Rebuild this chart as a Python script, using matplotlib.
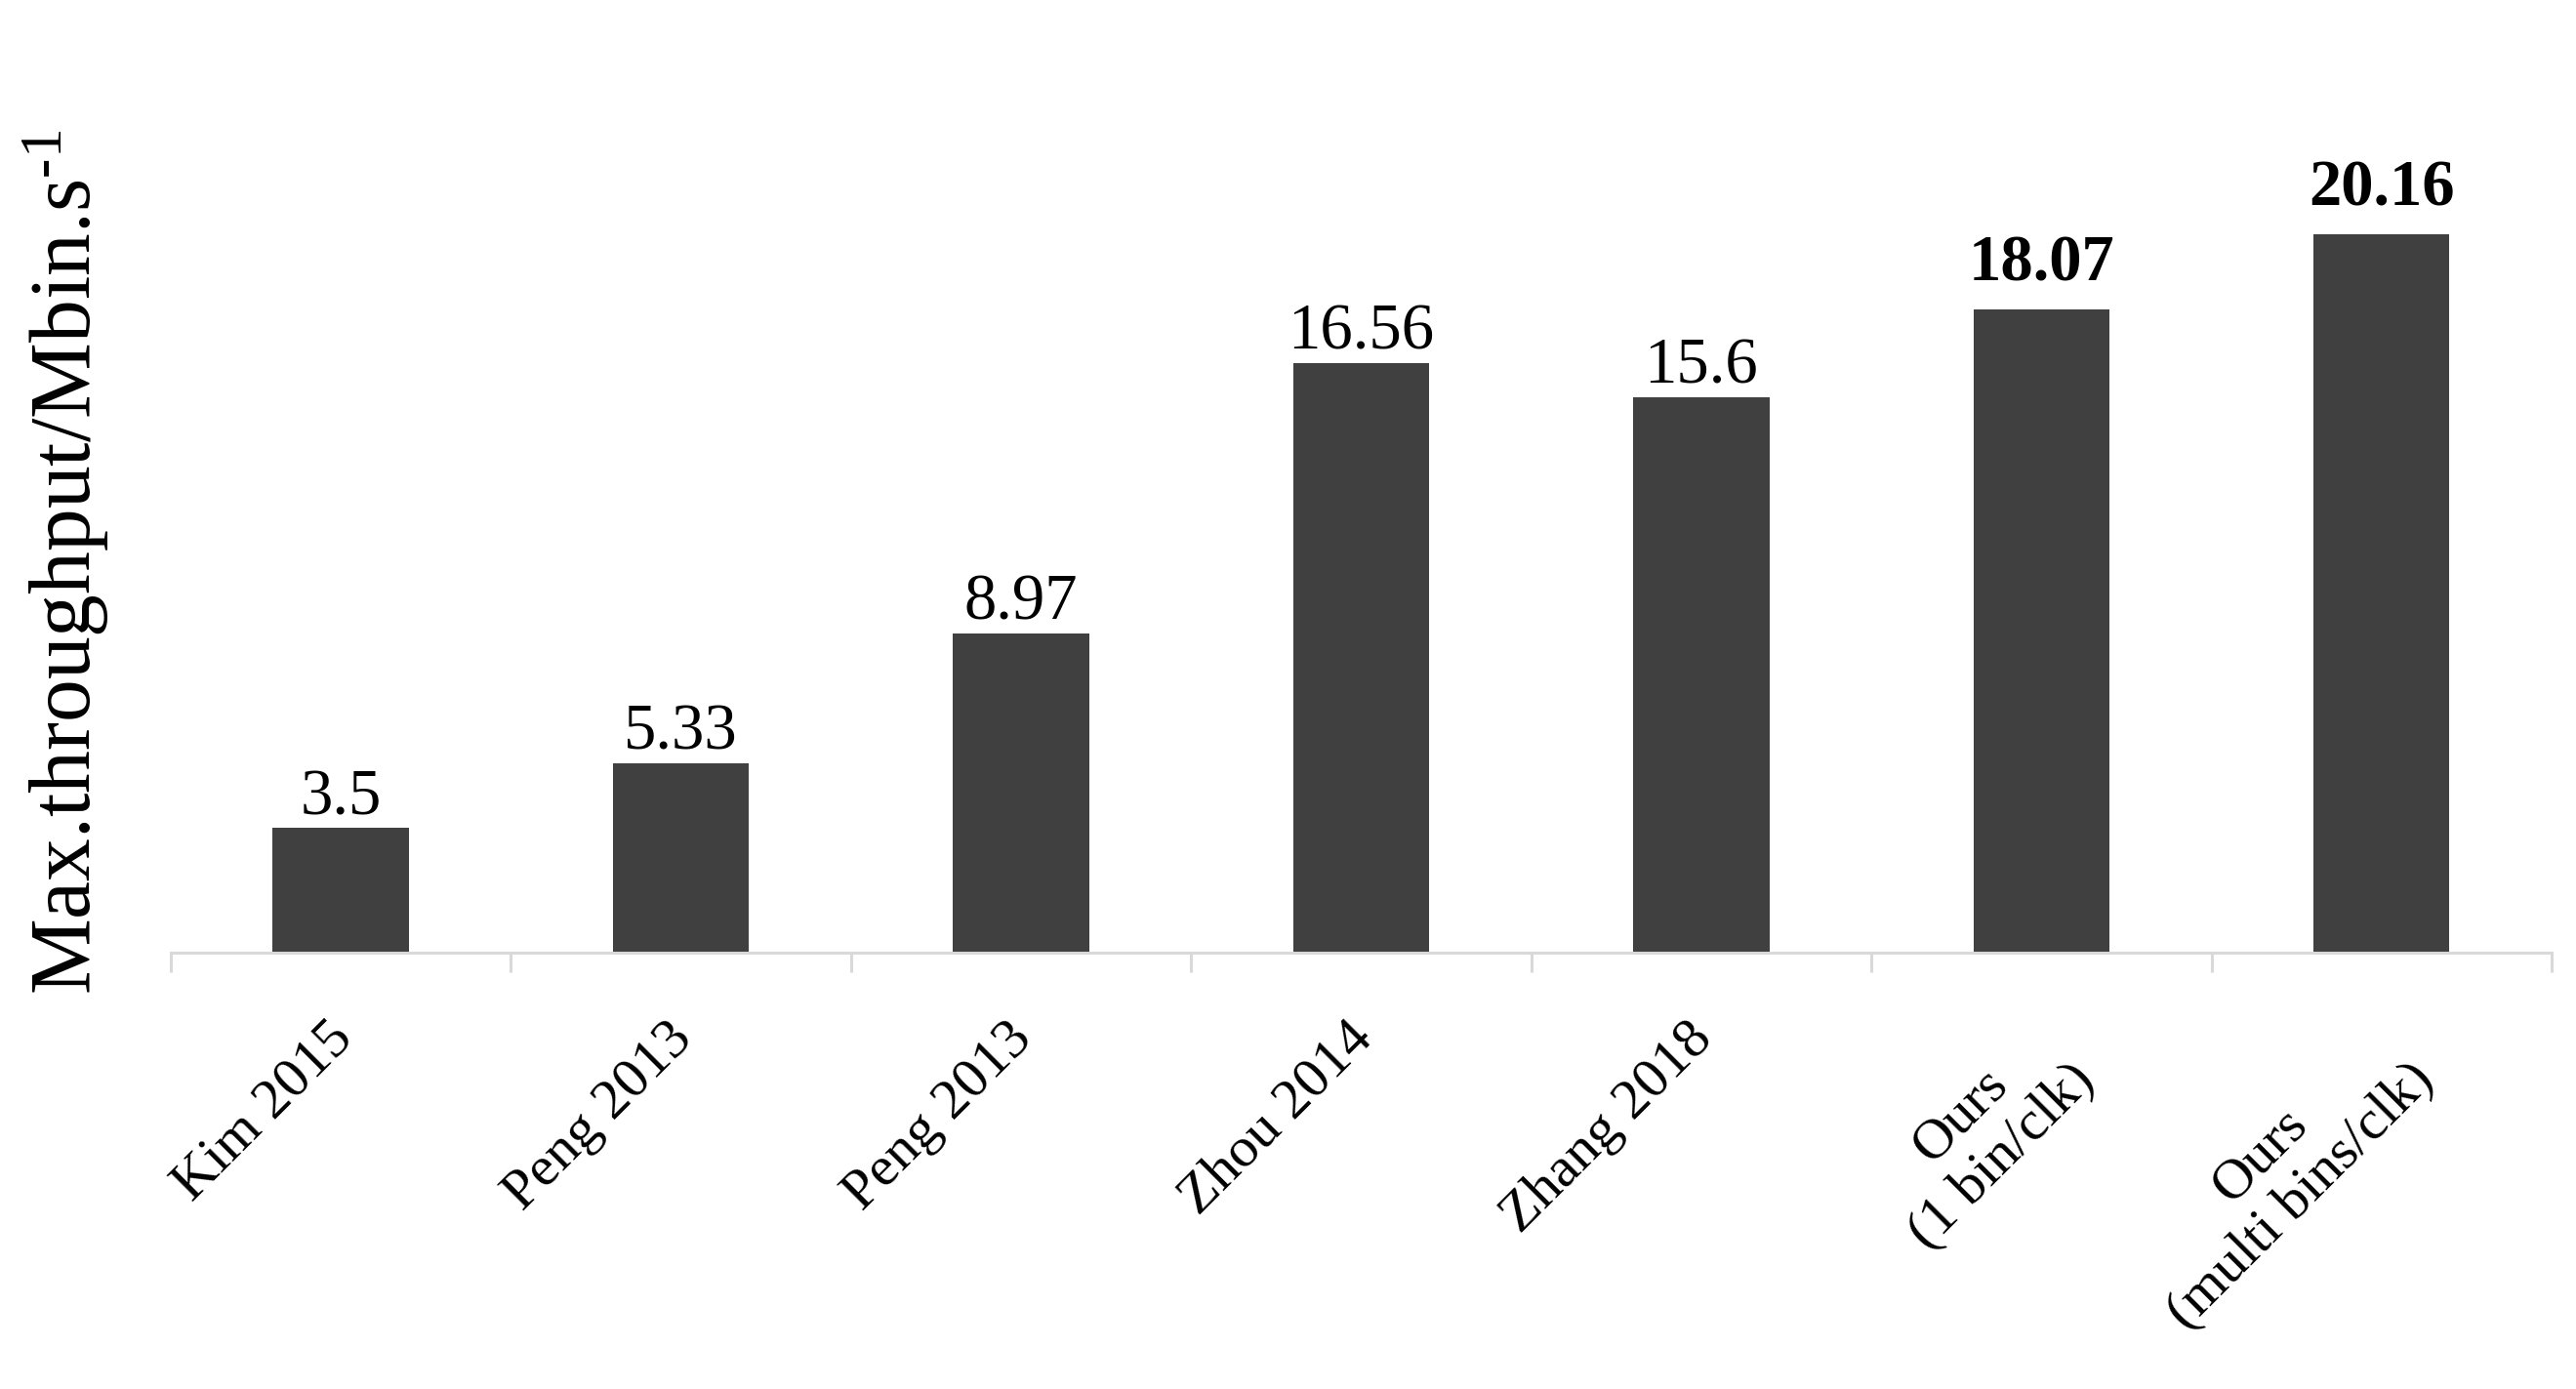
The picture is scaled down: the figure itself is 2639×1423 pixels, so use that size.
import numpy as np
import matplotlib
matplotlib.use('Agg')
from matplotlib import pyplot as plt
from matplotlib.transforms import ScaledTranslation

plt.rcParams['font.family'] = 'Liberation Serif'
plt.rcParams['mathtext.fontset'] = 'custom'
plt.rcParams['mathtext.rm'] = 'Liberation Serif'
plt.rcParams['mathtext.default'] = 'regular'

methods = ['Kim 2015', 'Peng 2013', 'Peng 2013', 'Zhou 2014', 'Zhang 2018',
           'Ours\n(1 bin/clk)', 'Ours\n(multi bins/clk)']
throughput = [3.5, 5.33, 8.97, 16.56, 15.6, 18.07, 20.16]
value_text = ['3.5', '5.33', '8.97', '16.56', '15.6', '18.07', '20.16']
is_ours = [False, False, False, False, False, True, True]

bar_color = '#404040'
axis_color = '#d9d9d9'

fig = plt.figure(figsize=(26.39, 14.23), dpi=100)
ax = fig.add_axes([0.0663, 0.314, 0.9242, 0.686])

x = np.arange(len(methods))
bars = ax.bar(x, throughput, width=0.4, color=bar_color, zorder=2)

# value labels over the bars, ours in bold
for rect, txt, bold in zip(bars, value_text, is_ours):
    ax.annotate(txt, (rect.get_x() + rect.get_width() / 2, rect.get_height()),
                xytext=(0, 11 if bold else 0), textcoords='offset points',
                ha='center', va='bottom', fontsize=48,
                fontweight='bold' if bold else 'normal')

ax.set_xlim(-0.5, len(methods) - 0.5)
ax.set_ylim(0, 26.74)

for s in ['left', 'right', 'top']:
    ax.spines[s].set_visible(False)
ax.spines['bottom'].set_color(axis_color)
ax.spines['bottom'].set_linewidth(2.2)
ax.set_yticks([])

ax.set_xticks(x)
ax.set_xticklabels(methods, fontsize=42)
ax.tick_params(axis='x', which='major', length=0, pad=44)
ax.set_xticks(np.arange(len(methods) + 1) - 0.5, minor=True)
ax.tick_params(axis='x', which='minor', length=14.4, width=2.2, color=axis_color,
               direction='out')

shift = ScaledTranslation(-0.15, 0, fig.dpi_scale_trans)
for lab in ax.get_xticklabels():
    lab.set_rotation(45)
    lab.set_ha('right')
    lab.set_va('top')
    lab.set_rotation_mode('anchor')
    lab.set_multialignment('center')
    lab.set_transform(lab.get_transform() + shift)

fig.text(68 / 2639, 1 - 576 / 1423, r'Max.throughput/Mbin.s$^{\text{-1}}$',
         rotation=90, ha='center', va='center', fontsize=63)

fig.savefig('out.png', dpi=100)
